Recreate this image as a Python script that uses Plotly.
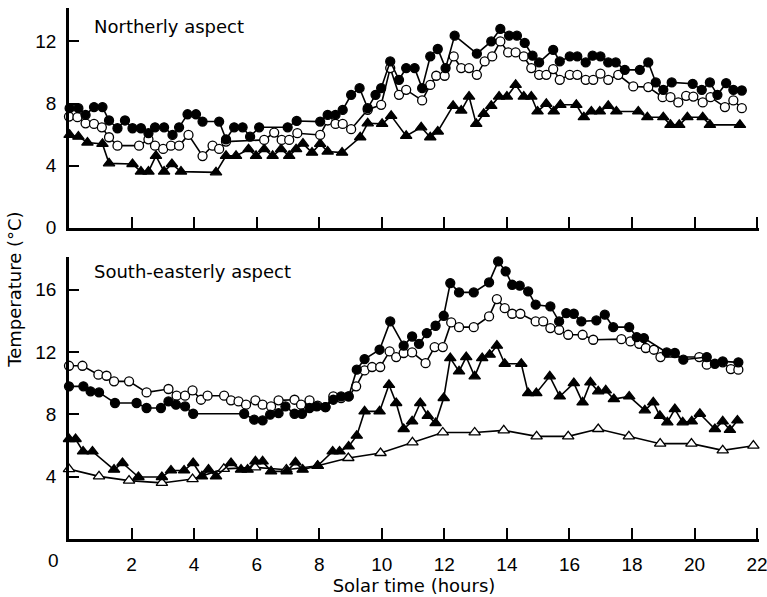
import plotly.graph_objects as go

# ---------------- Northerly aspect (top panel) ----------------
n_fill_t = [0.02, 0.30, 0.53, 0.80, 1.07, 1.28, 1.55, 1.79, 2.03, 2.30, 2.54, 2.75, 3.04, 3.31, 3.52, 3.79,
            4.06, 4.27, 4.80, 5.02, 5.28, 5.55, 5.79, 6.08, 6.99, 7.28, 8.03, 8.27, 8.52, 8.75, 9.02, 9.29,
            9.55, 9.80, 9.98, 10.27, 10.55, 10.78, 11.05, 11.29, 11.55, 11.79, 12.04, 12.33, 13.04, 13.50,
            13.79, 14.07, 14.32, 14.57, 14.82, 15.03, 15.48, 15.69, 16.01, 16.25, 16.52, 16.74, 16.99, 17.24,
            17.48, 17.77, 18.25, 18.52, 18.76, 19.00, 19.27, 19.94, 20.23, 20.49, 20.73, 21.01, 21.24, 21.51]
n_fill_v = [7.70, 7.70, 7.27, 7.77, 7.77, 6.91, 6.41, 6.91, 6.41, 6.41, 6.09, 6.47, 6.47, 5.98, 6.47, 7.31,
            7.31, 6.84, 6.84, 5.70, 6.47, 6.47, 5.87, 6.47, 6.47, 6.88, 6.84, 7.27, 7.27, 7.59, 8.56, 8.99,
            7.70, 8.56, 8.99, 10.71, 9.53, 10.28, 10.28, 8.99, 11.03, 11.51, 10.28, 12.37, 11.21, 12.00,
            12.80, 12.37, 12.37, 11.90, 11.08, 10.65, 11.46, 10.71, 11.03, 11.03, 10.65, 11.08, 11.03, 10.65,
            10.65, 10.17, 10.17, 10.65, 9.36, 8.88, 9.36, 9.27, 8.88, 9.36, 8.56, 9.31, 8.88, 8.84]

n_open_t = [0.00, 0.27, 0.53, 0.80, 1.05, 1.28, 1.55, 2.24, 2.54, 2.75, 3.01, 3.26, 3.52, 3.82, 4.27, 4.59,
            4.80, 5.02, 6.24, 6.56, 6.80, 7.04, 7.30, 8.03, 8.27, 8.52, 8.75, 9.02, 9.55, 9.98, 10.27, 10.55,
            10.78, 11.29, 11.55, 11.74, 12.01, 12.30, 12.54, 12.79, 13.04, 13.29, 13.53, 13.79, 14.04, 14.28,
            14.54, 14.78, 15.03, 15.26, 15.48, 15.69, 16.01, 16.25, 16.52, 16.76, 16.99, 17.24, 17.56, 18.04,
            18.52, 18.98, 19.23, 19.48, 19.73, 19.96, 20.26, 20.51, 20.97, 21.24, 21.51]
n_open_v = [7.16, 7.12, 6.73, 6.69, 6.47, 5.83, 5.29, 5.29, 5.70, 5.29, 5.08, 5.29, 5.29, 5.98, 4.62, 5.29,
            5.08, 5.55, 5.66, 6.13, 5.66, 5.66, 6.09, 5.98, 6.91, 6.69, 6.69, 6.35, 7.60, 7.92, 10.28, 8.56,
            8.88, 8.20, 9.20, 9.79, 9.79, 11.03, 10.28, 10.28, 9.85, 10.71, 11.03, 12.00, 11.29, 11.29,
            11.03, 10.28, 9.85, 9.85, 10.22, 9.53, 9.85, 9.85, 9.53, 9.53, 9.92, 9.53, 9.85, 9.10,
            9.06, 8.41, 8.41, 8.07, 8.50, 8.45, 8.07, 8.41, 7.77, 8.20, 7.70]

n_tri_t = [0.02, 0.30, 0.59, 1.07, 1.28, 2.03, 2.30, 2.54, 2.78, 3.04, 3.29, 3.58, 4.70, 5.02, 5.34, 5.74,
           5.98, 6.24, 6.51, 6.78, 7.04, 7.26, 7.48, 7.77, 8.03, 8.27, 8.73, 9.31, 9.55, 10.01, 10.30, 10.78,
           11.26, 11.55, 11.79, 12.28, 12.54, 12.79, 13.02, 13.26, 13.50, 13.75, 14.00, 14.28, 14.54, 14.78,
           14.98, 15.26, 15.50, 15.71, 16.22, 16.46, 16.70, 16.97, 17.24, 17.50, 18.20, 18.49, 19.00, 19.23,
           19.51, 19.77, 20.26, 20.49, 21.45]
n_tri_v = [5.98, 5.87, 5.49, 5.40, 4.15, 4.11, 3.62, 3.62, 4.63, 3.62, 4.11, 3.62, 3.57, 4.63, 4.63, 5.06,
           4.63, 5.06, 4.63, 5.06, 4.63, 5.06, 5.42, 4.84, 5.40, 4.91, 4.84, 5.83, 6.73, 6.69, 7.21, 5.92,
           6.47, 5.83, 6.20, 7.85, 7.55, 8.45, 6.69, 7.34, 7.85, 8.45, 8.45, 9.20, 8.45, 8.45,
           7.49, 7.98, 7.49, 7.92, 7.92, 7.12, 7.49, 7.49, 7.85, 7.49, 7.49, 7.12, 7.12, 6.63,
           6.63, 7.12, 7.12, 6.63, 6.63]

# ---------------- South-easterly aspect (bottom panel) ----------------
se_open_t = [0.00, 0.43, 0.94, 1.20, 1.44, 1.92, 2.48, 3.18, 3.44, 3.71, 3.95, 4.22, 4.43, 4.96, 5.18, 5.42,
             5.66, 5.96, 6.19, 6.46, 6.70, 7.21, 7.42, 7.69, 7.95, 8.20, 8.45, 8.70, 8.94, 9.18, 9.45, 9.69,
             9.95, 10.25, 10.46, 10.70, 10.97, 11.40, 11.69, 11.95, 12.22, 12.47, 12.94, 13.43, 13.68, 13.93,
             14.17, 14.43, 14.92, 15.16, 15.39, 15.67, 15.96, 16.42, 16.76, 17.66, 17.95, 18.23, 18.44, 18.70,
             18.91, 20.15, 20.39, 20.90, 21.16, 21.40]
se_open_v = [11.12, 11.12, 10.55, 10.48, 10.12, 10.12, 9.41, 9.63, 9.20, 9.20, 9.54, 8.94, 9.20, 9.20, 8.90, 8.83,
             8.62, 8.90, 8.62, 8.51, 8.90, 8.94, 8.62, 8.90, 8.56, 8.47, 9.15, 9.05, 9.15, 9.80, 10.82, 11.04,
             11.04, 12.04, 11.68, 11.94, 11.98, 11.29, 12.32, 12.32, 13.90, 13.60, 13.60, 14.29, 15.40, 14.82,
             14.46, 14.46, 13.97, 13.97, 13.54, 13.43, 13.11, 13.11, 12.79, 12.83, 12.68, 12.53, 12.26, 12.15,
             11.68, 11.68, 11.19, 11.34, 10.91, 10.87]

se_fill_t = [0.00, 0.46, 0.69, 0.96, 1.47, 2.16, 2.48, 2.94, 3.18, 3.42, 3.71, 3.97, 5.60, 5.92, 6.19, 6.43,
             6.70, 6.92, 7.21, 7.45, 7.69, 7.92, 8.20, 8.45, 8.70, 8.94, 9.20, 9.45, 9.93, 10.27, 10.70, 10.97,
             11.19, 11.44, 11.72, 11.98, 12.19, 12.47, 12.94, 13.43, 13.72, 13.96, 14.17, 14.41, 14.68, 14.92,
             15.39, 15.67, 15.90, 16.14, 16.38, 16.86, 17.13, 17.40, 17.91, 18.15, 18.38, 19.11, 19.37, 19.64,
             20.39, 20.65, 20.90, 21.40]
se_fill_v = [9.80, 9.80, 9.48, 9.41, 8.73, 8.73, 8.41, 8.41, 8.83, 8.62, 8.51, 8.04, 8.04, 7.66, 7.61, 7.98,
             8.08, 8.51, 8.04, 8.04, 8.41, 8.51, 8.47, 8.94, 9.15, 9.15, 10.87, 11.55, 12.15, 13.97, 12.41, 13.00,
             12.53, 13.22, 13.69, 14.33, 16.43, 15.83, 15.83, 16.47, 17.82, 17.18, 16.32, 16.26, 15.89, 15.04,
             14.93, 13.97, 14.50, 14.46, 13.97, 14.03, 14.40, 13.60, 13.60, 12.96, 12.90, 11.98, 11.94, 11.51,
             11.68, 11.25, 11.40, 11.34]

se_tri_t = [0.00, 0.21, 0.45, 0.75, 1.44, 1.71, 2.22, 2.97, 3.26, 3.68, 3.97, 4.25, 4.46, 4.70, 5.18, 5.50,
            5.71, 5.96, 6.19, 6.46, 6.96, 7.24, 7.47, 7.95, 8.43, 8.65, 8.94, 9.20, 9.45, 9.93, 10.23, 10.46,
            10.70, 10.97, 11.23, 11.47, 11.72, 11.98, 12.19, 12.47, 12.70, 12.97, 13.21, 13.45, 13.68, 13.93,
            14.46, 14.68, 14.94, 15.37, 15.69, 16.14, 16.42, 16.67, 16.92, 17.16, 17.42, 17.91, 18.41, 18.68,
            18.89, 19.13, 19.37, 19.62, 19.91, 20.17, 20.65, 20.90, 21.13, 21.37]
se_tri_v = [6.42, 6.42, 5.62, 5.62, 4.45, 4.88, 3.98, 3.98, 4.40, 4.40, 4.88, 4.02, 4.45, 4.02, 4.88, 4.45,
            4.45, 4.98, 4.98, 4.34, 4.34, 4.92, 4.45, 4.70, 5.62, 5.62, 5.94, 6.63, 8.19, 8.19, 9.90, 8.73,
            7.06, 7.55, 8.73, 7.91, 7.44, 9.05, 11.61, 10.76, 11.68, 10.44, 11.61, 11.83, 12.41, 11.25,
            11.25, 9.37, 9.37, 10.44, 9.15, 10.01, 8.77, 10.05, 9.48, 9.54, 8.98, 9.15, 8.26, 8.77,
            7.91, 7.49, 8.34, 7.49, 7.55, 8.04, 7.06, 7.55, 7.00, 7.61]

se_otri_t = [0.00, 0.96, 1.92, 2.97, 3.95, 4.95, 5.95, 6.95, 7.95, 8.93, 9.96, 10.98, 11.95, 12.97, 13.90,
             14.95, 15.96, 16.92, 17.90, 18.90, 19.90, 20.90, 21.88]
se_otri_v = [4.49, 4.02, 3.75, 3.60, 3.85, 4.50, 4.60, 4.45, 4.70, 5.20, 5.52, 6.20, 6.84, 6.84, 6.97,
             6.59, 6.59, 7.06, 6.59, 6.12, 6.12, 5.69, 5.99]

x_ticks = [0, 2, 4, 6, 8, 10, 12, 14, 16, 18, 20, 22]
x_ticktext = ["", "2", "4", "6", "8", "10", "12", "14", "16", "18", "20", "22"]
top_yticks = [0, 4, 8, 12]
bot_yticks = [4, 8, 12, 16]

TICKFONT = dict(family="Liberation Sans, Arial, sans-serif", size=19, color="black")
TEXTFONT = dict(family="DejaVu Sans, sans-serif", size=18, color="black")

fig = go.Figure()


def add(t, v, xa, ya, symbol, fill, size):
    fig.add_trace(go.Scatter(
        x=t, y=v, xaxis=xa, yaxis=ya, mode="lines+markers",
        line=dict(color="black", width=1.6),
        marker=dict(symbol=symbol, size=size, color=fill, line=dict(color="black", width=1.3)),
        cliponaxis=False, showlegend=False, hoverinfo="x+y",
    ))


# top panel
add(n_tri_t, n_tri_v, "x2", "y2", "triangle-up", "black", 10)
add(n_open_t, n_open_v, "x2", "y2", "circle", "white", 9)
add(n_fill_t, n_fill_v, "x2", "y2", "circle", "black", 9)
# bottom panel
add(se_otri_t, se_otri_v, "x", "y", "triangle-up", "white", 10)
add(se_tri_t, se_tri_v, "x", "y", "triangle-up", "black", 10)
add(se_open_t, se_open_v, "x", "y", "circle", "white", 9)
add(se_fill_t, se_fill_v, "x", "y", "circle", "black", 9)

axis_common = dict(showline=True, linecolor="black", linewidth=2.5, ticks="inside", tickcolor="black",
                   tickwidth=1.6, showgrid=False, zeroline=False, tickfont=TICKFONT, automargin=False)

fig.update_layout(
    width=767, height=597,
    margin=dict(l=69, r=8, t=8, b=58, autoexpand=False),
    plot_bgcolor="white", paper_bgcolor="white",
    xaxis=dict(domain=[0, 1], range=[0, 22.06], anchor="y", tickvals=x_ticks, ticktext=x_ticktext,
               ticklen=11, ticklabelstandoff=6, ticklabeloverflow="allow",
               title=dict(text="Solar time (hours)", font=TEXTFONT, standoff=6), **axis_common),
    xaxis2=dict(domain=[0, 1], range=[0, 22.06], anchor="y2", tickvals=x_ticks, showticklabels=False,
                ticklen=11, **axis_common),
    yaxis=dict(domain=[0, 0.531], range=[0, 18.1], anchor="x", tickvals=bot_yticks, ticklen=10,
               ticklabelstandoff=6, **axis_common),
    yaxis2=dict(domain=[0.586, 1], range=[0, 14.15], anchor="x2", tickvals=top_yticks, ticklen=10,
                ticklabelstandoff=6, **axis_common),
    annotations=[
        dict(text="Temperature (°C)", textangle=-90, xref="paper", yref="paper", x=-0.0785, y=0.469,
             xanchor="center", yanchor="middle", showarrow=False, font=TEXTFONT),
        dict(text="Northerly aspect", xref="x2 domain", yref="y2 domain", x=0.034, y=0.915,
             xanchor="left", yanchor="middle", showarrow=False, font=TEXTFONT),
        dict(text="South-easterly aspect", xref="x domain", yref="y domain", x=0.034, y=0.95,
             xanchor="left", yanchor="middle", showarrow=False, font=TEXTFONT),
        dict(text="0", xref="x", yref="y domain", x=0, y=0, xanchor="center", yanchor="top",
             xshift=-16, yshift=-9, showarrow=False, font=TICKFONT),
    ],
)

fig.write_html("out.html")
